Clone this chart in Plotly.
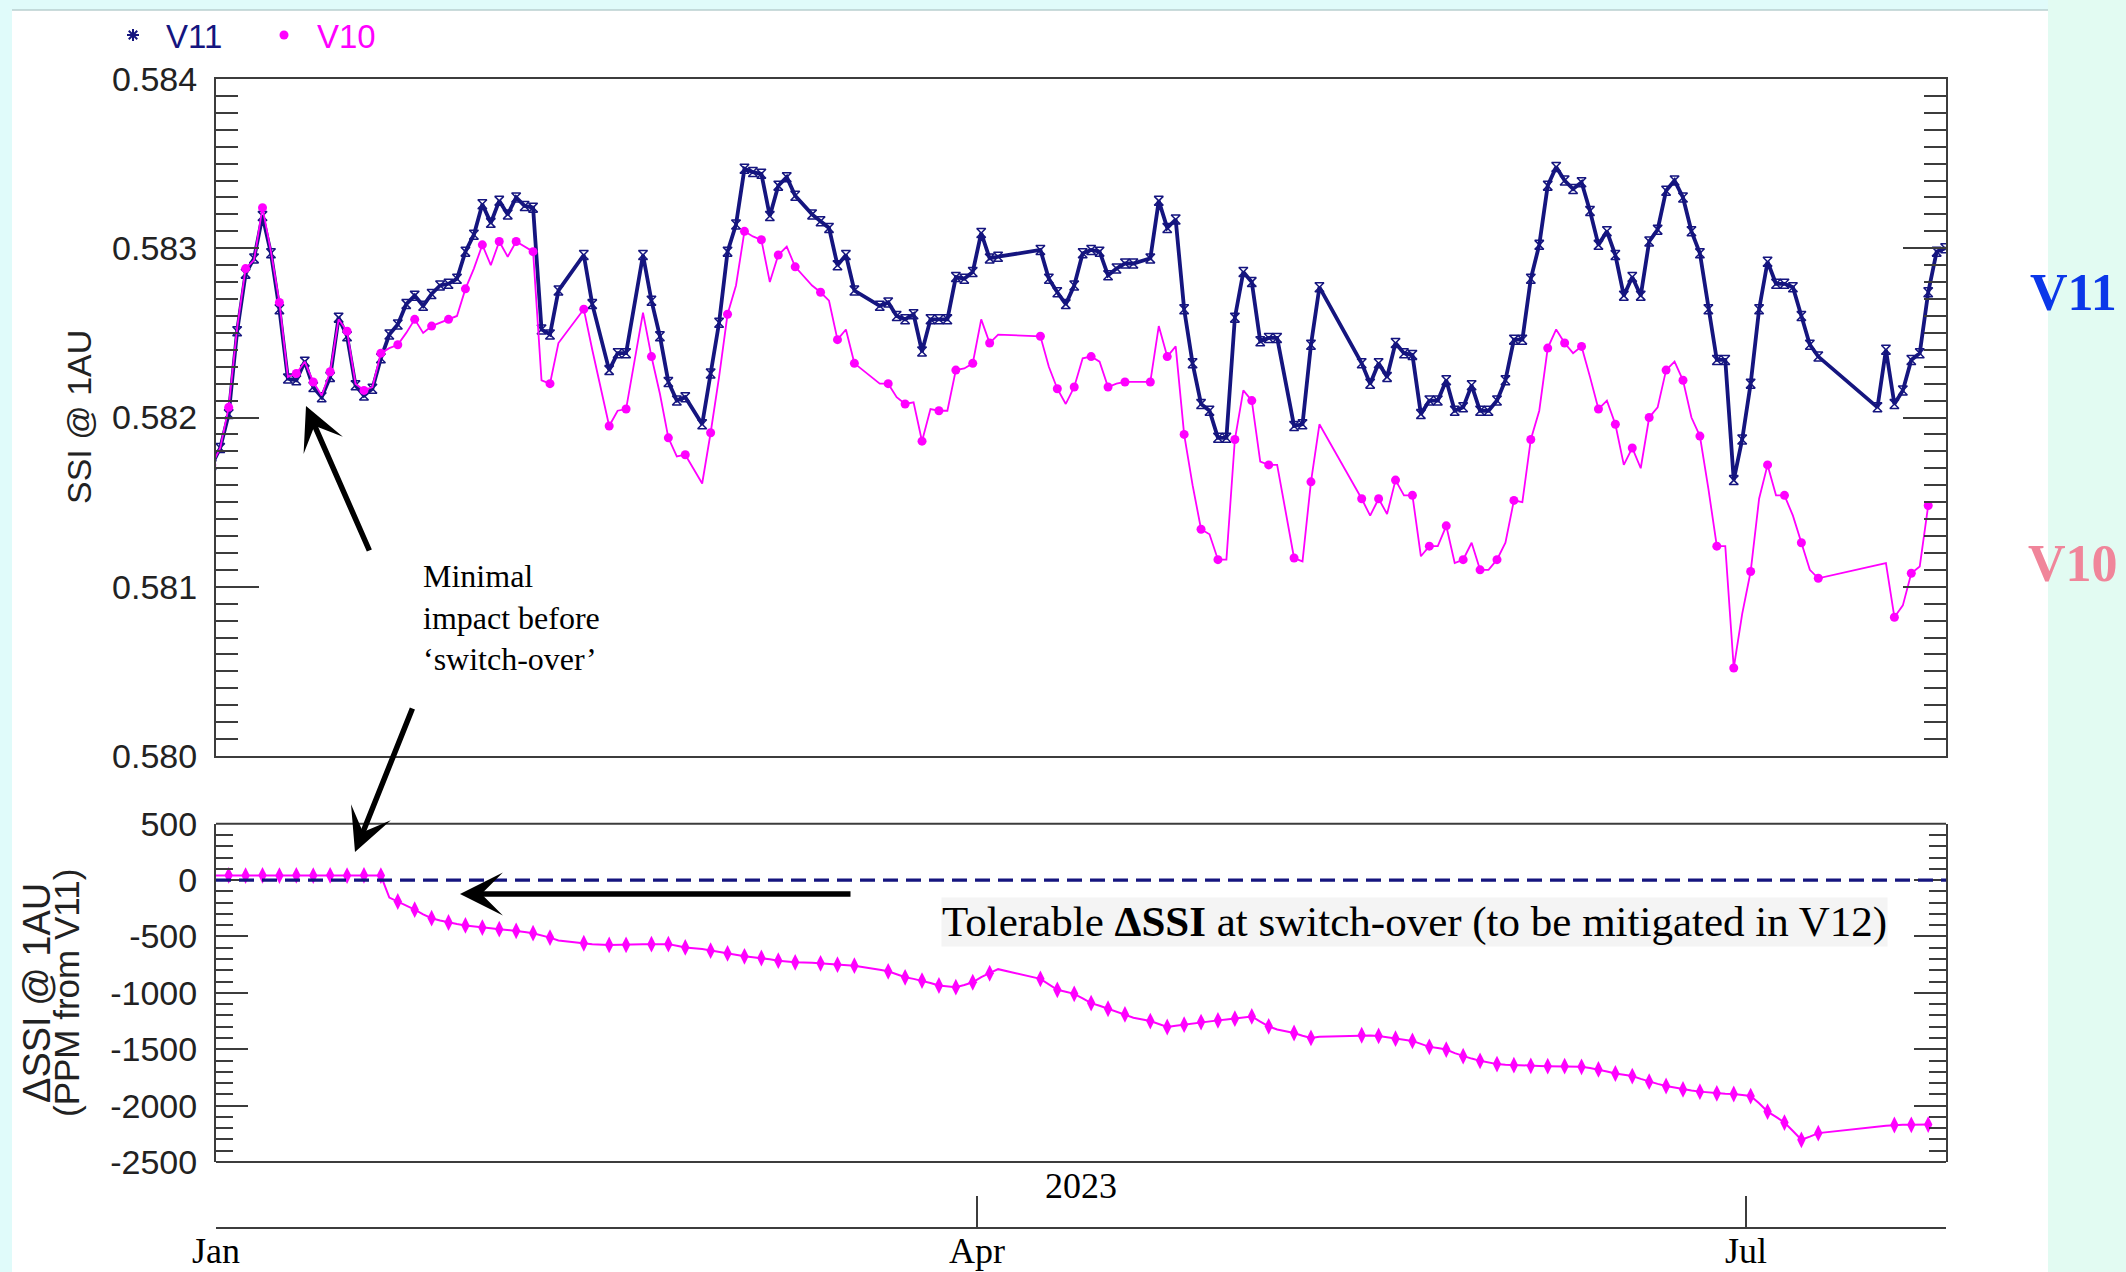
import plotly.graph_objects as go

W, H = 2126, 1272

# ---------------- data ----------------
V11_DATES = (
    ["2022-12-31"]
    + [f"2023-01-{d:02d}" for d in range(1, 32)]
    + [f"2023-02-{d:02d}" for d in (1, 2, 3, 4, 5, 6, 7, 8, 9, 10, 13, 14, 16, 17, 18,
                                   20, 21, 22, 23, 24, 25, 27, 28)]
    + [f"2023-03-{d:02d}" for d in (1, 2, 3, 4, 5, 6, 7, 8, 9, 10, 12, 13, 14, 15, 16, 17,
                                   20, 21, 22, 23, 24, 25, 26, 27, 28, 29, 30, 31)]
    + [f"2023-04-{d:02d}" for d in (1, 2, 3, 8, 9, 10, 11, 12, 13, 14, 15, 16, 17, 18, 19,
                                   21, 22, 23, 24, 25, 26, 27, 28, 29, 30)]
    + [f"2023-05-{d:02d}" for d in (1, 2, 3, 4, 5, 6, 8, 9, 10, 11, 16, 17, 18, 19, 20, 21,
                                   22, 23, 24, 25, 26, 27, 28, 29, 30, 31)]
    + [f"2023-06-{d:02d}" for d in range(1, 31)]
    + [f"2023-07-{d:02d}" for d in (1, 2, 3, 4, 5, 6, 7, 8, 9, 16, 17, 18, 19, 20, 21, 22,
                                   23, 24)]
)

V11_SSI = [
    0.58172,
    # Jan
    0.58182, 0.58202, 0.58251, 0.58285, 0.58294, 0.58319, 0.58297, 0.58264, 0.58223, 0.58222,
    0.58233, 0.58218, 0.58212, 0.58224, 0.58259, 0.58248, 0.58219, 0.58213, 0.58217, 0.58235,
    0.58249, 0.58255, 0.58267, 0.58272, 0.58266, 0.58273, 0.58278, 0.58279, 0.58282, 0.58298,
    0.58308,
    # Feb
    0.58326, 0.58315, 0.58328, 0.58320, 0.58330, 0.58325, 0.58324, 0.58252, 0.58249, 0.58275,
    0.58296, 0.58267, 0.58228, 0.58238, 0.58238, 0.58296, 0.58269, 0.58248, 0.58221, 0.58210,
    0.58212, 0.58196, 0.58226,
    # Mar
    0.58256, 0.58298, 0.58314, 0.58347, 0.58345, 0.58344, 0.58319, 0.58337, 0.58342, 0.58331,
    0.58320, 0.58316, 0.58312, 0.58290, 0.58296, 0.58275, 0.58266, 0.58268, 0.58260, 0.58258,
    0.58261, 0.58239, 0.58258, 0.58258, 0.58258, 0.58283, 0.58282, 0.58286,
    # Apr
    0.58309, 0.58294, 0.58295, 0.58299, 0.58282, 0.58274, 0.58267, 0.58278, 0.58297, 0.58299,
    0.58298, 0.58284, 0.58288, 0.58291, 0.58291, 0.58294, 0.58328, 0.58312, 0.58317, 0.58264,
    0.58232, 0.58208, 0.58204, 0.58188, 0.58188,
    # May
    0.58259, 0.58286, 0.58280, 0.58245, 0.58247, 0.58247, 0.58195, 0.58196, 0.58243, 0.58277,
    0.58232, 0.58220, 0.58232, 0.58224, 0.58244, 0.58238, 0.58237, 0.58202, 0.58210, 0.58210,
    0.58222, 0.58204, 0.58206, 0.58219, 0.58204, 0.58204,
    # Jun
    0.58210, 0.58222, 0.58246, 0.58246, 0.58282, 0.58302, 0.58337, 0.58348, 0.58340, 0.58335,
    0.58339, 0.58322, 0.58302, 0.58310, 0.58296, 0.58272, 0.58283, 0.58272, 0.58304, 0.58311,
    0.58334, 0.58340, 0.58330, 0.58310, 0.58297, 0.58264, 0.58234, 0.58234, 0.58163, 0.58187,
    # Jul
    0.58220, 0.58264, 0.58292, 0.58279, 0.58279, 0.58277, 0.58260, 0.58243, 0.58236,
    0.58206, 0.58240, 0.58208, 0.58216, 0.58234, 0.58238, 0.58274, 0.58298, 0.58300,
]

V10_DATES = [d for d in V11_DATES if d not in ("2023-07-16", "2023-07-23", "2023-07-24")]

V10_SSI = [
    0.58172,
    # Jan
    0.58182, 0.58206, 0.58253, 0.58288, 0.58293, 0.58324, 0.58298, 0.58268, 0.58224, 0.58226,
    0.58233, 0.58221, 0.58213, 0.58227, 0.58258, 0.58251, 0.58220, 0.58216, 0.58218, 0.58238,
    0.58241, 0.58243, 0.58250, 0.58258, 0.58250, 0.58254, 0.58256, 0.58258, 0.58260, 0.58276,
    0.58288,
    # Feb
    0.58302, 0.58290, 0.58304, 0.58295, 0.58304, 0.58301, 0.58298, 0.58222, 0.58220, 0.58244,
    0.58264, 0.58240, 0.58195, 0.58204, 0.58205, 0.58262, 0.58236, 0.58214, 0.58188, 0.58177,
    0.58178, 0.58161, 0.58191,
    # Mar
    0.58224, 0.58261, 0.58278, 0.58310, 0.58307, 0.58305, 0.58280, 0.58296, 0.58301, 0.58289,
    0.58278, 0.58274, 0.58269, 0.58246, 0.58252, 0.58232, 0.58220, 0.58220, 0.58212, 0.58208,
    0.58209, 0.58186, 0.58205, 0.58204, 0.58204, 0.58228, 0.58229, 0.58232,
    # Apr
    0.58258, 0.58244, 0.58249, 0.58248, 0.58230, 0.58217, 0.58208, 0.58218, 0.58235, 0.58236,
    0.58233, 0.58218, 0.58220, 0.58221, 0.58221, 0.58221, 0.58254, 0.58236, 0.58242, 0.58190,
    0.58160, 0.58134, 0.58131, 0.58116, 0.58116,
    # May
    0.58187, 0.58216, 0.58210, 0.58174, 0.58172, 0.58172, 0.58117, 0.58115, 0.58162, 0.58196,
    0.58152, 0.58142, 0.58152, 0.58143, 0.58163, 0.58154, 0.58154, 0.58118, 0.58124, 0.58124,
    0.58136, 0.58114, 0.58116, 0.58126, 0.58110, 0.58110,
    # Jun
    0.58116, 0.58126, 0.58151, 0.58150, 0.58187, 0.58204, 0.58241, 0.58252, 0.58244, 0.58238,
    0.58242, 0.58224, 0.58205, 0.58210, 0.58196, 0.58172, 0.58182, 0.58170, 0.58200, 0.58206,
    0.58228, 0.58233, 0.58222, 0.58200, 0.58189, 0.58158, 0.58124, 0.58124, 0.58052, 0.58084,
    # Jul
    0.58109, 0.58152, 0.58172, 0.58154, 0.58154, 0.58142, 0.58126, 0.58110, 0.58105,
    0.58114, 0.58082, 0.58089, 0.58108, 0.58112, 0.58148,
]

# V10 relative to V11, parts per million (same dates as V10)
DELTA_PPM = [
    40,
    # Jan
    40, 42, 41, 40, 41, 42, 41, 40, 41, 42, 41, 40, 41, 42, 41, 40, 41, 42, 41, 40,
    -155, -190, -225, -262, -305, -338, -358, -376, -390, -402, -412,
    # Feb
    -421, -428, -435, -442, -450, -460, -471, -490, -510, -535,
    -560, -568, -575, -575, -574, -570, -568, -567, -568, -582, -597, -612, -626,
    # Mar
    -638, -650, -663, -676, -684, -691, -703, -715, -722, -729,
    -733, -738, -744, -750, -755, -759,
    -795, -809, -835, -862, -876, -891, -912, -935, -943, -950, -930, -906,
    # Apr
    -860, -826, -790,
    -876, -925, -973, -990, -1009, -1050, -1091, -1115, -1141, -1165, -1191, -1220,
    -1250, -1280, -1303, -1292, -1282, -1270, -1259, -1250, -1244, -1236,
    # May
    -1229, -1218, -1209, -1255, -1297, -1325, -1356, -1380, -1400, -1390,
    -1376, -1378, -1382, -1395, -1406, -1415, -1426, -1452, -1479, -1490, -1503,
    -1535, -1562, -1583, -1603, -1618,
    # Jun
    -1632, -1637, -1641, -1644, -1647, -1648, -1650, -1650, -1650, -1653,
    -1656, -1667, -1679, -1697, -1715, -1727, -1738, -1763, -1788, -1807,
    -1826, -1841, -1856, -1866, -1876, -1884, -1891, -1894, -1897, -1905,
    # Jul
    -1915, -1980, -2053, -2100, -2150, -2225, -2303, -2275, -2244,
    -2178, -2172, -2170, -2170, -2168, -2168,
]

TOP_TICKS = [0.580, 0.581, 0.582, 0.583, 0.584]
TOP_TICK_TEXT = ["0.580", "0.581", "0.582", "0.583", "0.584"]
BOT_TICKS = [500, 0, -500, -1000, -1500, -2000, -2500]
BOT_TICK_TEXT = ["500", "0", "-500", "-1000", "-1500", "-2000", "-2500"]
MONTH_TICKS = ["2023-01-01", "2023-04-01", "2023-07-01"]
MONTH_TEXT = ["Jan", "Apr", "Jul"]
X_RANGE = ["2023-01-01", "2023-07-24 14:30"]

# ---------------- styling ----------------
NAVY = "#15157f"
MAGENTA = "#ff00ff"
AXIS = "#3c3c3c"
SANS = "Liberation Sans, Arial, sans-serif"
SERIF = "Liberation Serif, Times New Roman, serif"


def px(x):
    return x / W


def py(y):
    return 1 - y / H


def noon(dates):
    return [d + " 12:00" for d in dates]


x11 = noon(V11_DATES)
x10 = noon(V10_DATES)

fig = go.Figure()

# top panel: V11
fig.add_trace(go.Scatter(
    x=x11, y=V11_SSI, mode="lines+markers", xaxis="x", yaxis="y",
    line=dict(color=NAVY, width=3.8),
    marker=dict(symbol="hourglass-open", size=9, color=NAVY, line=dict(width=1.5, color=NAVY)),
    showlegend=False, hoverinfo="skip",
))
# top panel: V10 line and its (every other) dots
fig.add_trace(go.Scatter(
    x=x10, y=V10_SSI, mode="lines", xaxis="x", yaxis="y",
    line=dict(color=MAGENTA, width=1.8), showlegend=False, hoverinfo="skip",
))
fig.add_trace(go.Scatter(
    x=x10[::2], y=V10_SSI[::2], mode="markers", xaxis="x", yaxis="y",
    marker=dict(symbol="circle", size=9, color=MAGENTA), showlegend=False, hoverinfo="skip",
))

# bottom panel: difference
fig.add_trace(go.Scatter(
    x=x10, y=DELTA_PPM, mode="lines", xaxis="x2", yaxis="y2",
    line=dict(color=MAGENTA, width=2), showlegend=False, hoverinfo="skip",
))
fig.add_trace(go.Scatter(
    x=x10[::2], y=DELTA_PPM[::2], mode="markers", xaxis="x2", yaxis="y2",
    marker=dict(symbol="diamond-tall", size=12, color=MAGENTA), showlegend=False, hoverinfo="skip",
))

# legend entries (symbols only)
fig.add_trace(go.Scatter(
    x=[None], y=[None], mode="markers", name=f"<span style='color:{NAVY}'>V11</span>",
    marker=dict(symbol="asterisk-open", size=10, color=NAVY, line=dict(width=2, color=NAVY)),
))
fig.add_trace(go.Scatter(
    x=[None], y=[None], mode="markers", name=f"<span style='color:{MAGENTA}'>V10</span>",
    marker=dict(symbol="circle", size=9, color=MAGENTA),
))

X_DOM = [px(216), px(1946)]

fig.update_layout(
    template="none",
    width=W, height=H, autosize=False,
    margin=dict(l=0, r=0, t=0, b=0, pad=0, autoexpand=False),
    paper_bgcolor="#e0fbfa", plot_bgcolor="white",
    font=dict(family=SANS, size=33, color="black"),
    showlegend=True,
    legend=dict(orientation="h", x=px(100), y=py(35), xanchor="left", yanchor="middle",
                bgcolor="rgba(0,0,0,0)", font=dict(family=SANS, size=33),
                itemwidth=56, entrywidth=80, entrywidthmode="pixels", itemclick=False),
    xaxis=dict(domain=X_DOM, range=X_RANGE, type="date", anchor="y", automargin=False,
               showline=True, mirror=True, linecolor=AXIS, linewidth=2,
               ticks="", showticklabels=False, showgrid=False, zeroline=False),
    yaxis=dict(domain=[py(756), py(79)], range=[0.580, 0.584], anchor="x", automargin=False,
               showline=True, mirror="allticks", linecolor=AXIS, linewidth=2,
               ticks="inside", ticklen=43, tickwidth=2, tickcolor=AXIS,
               tickmode="array", tickvals=TOP_TICKS, ticktext=TOP_TICK_TEXT,
               tickfont=dict(family=SANS, size=34, color="#222"), ticklabelstandoff=10,
               minor=dict(ticks="inside", ticklen=22, tickwidth=2, tickcolor=AXIS,
                          tickmode="linear", tick0=0.58, dtick=0.0001, showgrid=False),
               showgrid=False, zeroline=False),
    xaxis2=dict(domain=X_DOM, range=X_RANGE, type="date", anchor="free", position=py(1228),
                automargin=False, showline=True, linecolor=AXIS, linewidth=2,
                ticks="inside", ticklen=31, tickwidth=1.5, tickcolor=AXIS,
                tickmode="array", tickvals=MONTH_TICKS, showticklabels=False,
                showgrid=False, zeroline=False),
    yaxis2=dict(domain=[py(1162), py(823.7)], range=[-2500, 500], anchor="x2", automargin=False,
                showline=True, mirror="allticks", linecolor=AXIS, linewidth=2,
                ticks="inside", ticklen=32, tickwidth=2, tickcolor=AXIS,
                tickmode="array", tickvals=BOT_TICKS, ticktext=BOT_TICK_TEXT,
                tickfont=dict(family=SANS, size=34, color="#222"), ticklabelstandoff=10,
                minor=dict(ticks="inside", ticklen=17, tickwidth=2, tickcolor=AXIS,
                           tickmode="linear", tick0=0, dtick=100, showgrid=False),
                showgrid=False, zeroline=False),
)

shapes = [
    # white page area and mint strip on the right
    dict(type="rect", xref="paper", yref="paper", x0=px(12), x1=px(2048), y0=0, y1=py(10),
         fillcolor="white", line=dict(width=0), layer="below"),
    dict(type="line", xref="paper", yref="paper", x0=px(12), x1=px(2048), y0=py(10), y1=py(10),
         line=dict(color="#b9cfcf", width=1.5), layer="below"),
    dict(type="rect", xref="paper", yref="paper", x0=px(2048), x1=1, y0=0, y1=1,
         fillcolor="#e2fbf2", line=dict(width=0), layer="below"),
    # bottom panel frame (top and bottom edges)
    dict(type="line", xref="x2 domain", yref="y2 domain", x0=0, x1=1, y0=1, y1=1,
         line=dict(color=AXIS, width=2)),
    dict(type="line", xref="x2 domain", yref="y2 domain", x0=0, x1=1, y0=0, y1=0,
         line=dict(color=AXIS, width=2)),
    # V11 reference level in the difference panel
    dict(type="line", xref="x2 domain", yref="y2", x0=0, x1=1, y0=0, y1=0,
         line=dict(color=NAVY, width=3.3, dash="15px,8px")),
]
fig.update_layout(shapes=shapes)

ann = []
# month labels under the date axis
for d, t in zip(MONTH_TICKS, MONTH_TEXT):
    ann.append(dict(text=t, x=d, y=py(1251), xref="x2", yref="paper", showarrow=False,
                    font=dict(family=SERIF, size=36, color="black"),
                    xanchor="center", yanchor="middle"))
# axis titles
ann.append(dict(text="SSI @ 1AU", x=px(79), y=py(417), xref="paper", yref="paper",
                textangle=-90, showarrow=False, font=dict(family=SANS, size=34, color="#222"),
                xanchor="center", yanchor="middle"))
ann.append(dict(text="ΔSSI @ 1AU", x=px(37), y=py(993), xref="paper", yref="paper",
                textangle=-90, showarrow=False, font=dict(family=SANS, size=38, color="#222"),
                xanchor="center", yanchor="middle"))
ann.append(dict(text="(PPM from V11)", x=px(66), y=py(993), xref="paper", yref="paper",
                textangle=-90, showarrow=False, font=dict(family=SANS, size=35, color="#222"),
                xanchor="center", yanchor="middle"))
ann.append(dict(text="2023", x=px(1081), y=py(1186), xref="paper", yref="paper",
                showarrow=False, font=dict(family=SERIF, size=36, color="black"),
                xanchor="center", yanchor="middle"))
# side labels
ann.append(dict(text="<b>V11</b>", x=px(2073), y=py(292), xref="paper", yref="paper",
                showarrow=False, font=dict(family=SERIF, size=52, color="#0b37e9"),
                xanchor="center", yanchor="middle"))
ann.append(dict(text="<b>V10</b>", x=px(2073), y=py(563), xref="paper", yref="paper",
                showarrow=False, font=dict(family=SERIF, size=52, color="#f0859a"),
                xanchor="center", yanchor="middle"))
# notes
ann.append(dict(text="Minimal<br>impact before<br>‘switch-over’", x=px(421), y=py(617),
                xref="paper", yref="paper", showarrow=False, align="left",
                font=dict(family=SERIF, size=32, color="black"),
                xanchor="left", yanchor="middle"))
ann.append(dict(text="Tolerable <b>ΔSSI</b> at switch-over (to be mitigated in V12)",
                x=px(1414), y=py(922), xref="paper", yref="paper", showarrow=False,
                font=dict(family=SERIF, size=43, color="black"), bgcolor="#f4f4f4",
                borderpad=0, xanchor="center", yanchor="middle"))
# arrows: (head x, head y, tail x, tail y) in page pixels
for hx, hy, tx, ty in [(306, 406, 370, 552), (355, 852, 413, 707), (460, 894, 852, 894)]:
    ann.append(dict(text="", x=px(hx), y=py(hy), xref="paper", yref="paper",
                    ax=tx - hx, ay=ty - hy, axref="pixel", ayref="pixel",
                    showarrow=True, arrowhead=3, arrowsize=1.3, arrowwidth=5.5,
                    arrowcolor="black", standoff=0, startstandoff=0))
fig.update_layout(annotations=ann)

fig.write_html("out.html")
